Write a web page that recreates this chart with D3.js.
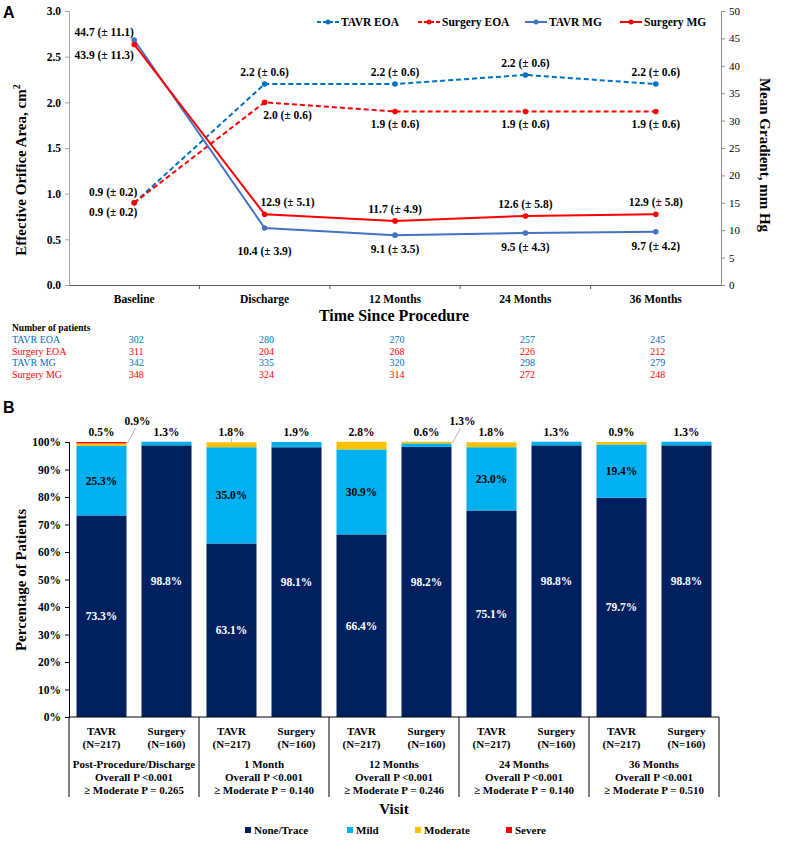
<!DOCTYPE html>
<html>
<head>
<meta charset="utf-8">
<script src="https://cdn.jsdelivr.net/npm/d3@7"></script>
<style>
  body { margin: 0; background: #fff; }
  svg text { font-family: "Liberation Serif", "Times New Roman", serif; font-weight: bold; }
</style>
</head>
<body>
<svg id="chart" width="788" height="843"></svg>
<script>
// ---- panel A data ----
const timePoints = ["Baseline", "Discharge", "12 Months", "24 Months", "36 Months"];
const tavrEoa = [0.9, 2.2, 2.2, 2.3, 2.2];
const surgeryEoa = [0.9, 2.0, 1.9, 1.9, 1.9];
const tavrMg = [44.7, 10.4, 9.1, 9.5, 9.7];
const surgeryMg = [43.9, 12.9, 11.7, 12.6, 12.9];
const tavrEoaLabels = ["0.9 (± 0.2)", "2.2 (± 0.6)", "2.2 (± 0.6)", "2.2 (± 0.6)", "2.2 (± 0.6)"];
const surgeryEoaLabels = ["0.9 (± 0.2)", "2.0 (± 0.6)", "1.9 (± 0.6)", "1.9 (± 0.6)", "1.9 (± 0.6)"];
const tavrMgLabels = ["44.7 (± 11.1)", "10.4 (± 3.9)", "9.1 (± 3.5)", "9.5 (± 4.3)", "9.7 (± 4.2)"];
const surgeryMgLabels = ["43.9 (± 11.3)", "12.9 (± 5.1)", "11.7 (± 4.9)", "12.6 (± 5.8)", "12.9 (± 5.8)"];
const eoaTicks = [0, 0.5, 1.0, 1.5, 2.0, 2.5, 3.0];
const mgTicks = [0, 5, 10, 15, 20, 25, 30, 35, 40, 45, 50];

const patientRows = ["TAVR EOA", "Surgery EOA", "TAVR MG", "Surgery MG"];
const patientsTavrEoa = [302, 280, 270, 257, 245];
const patientsSurgeryEoa = [311, 204, 268, 226, 212];
const patientsTavrMg = [342, 335, 320, 298, 279];
const patientsSurgeryMg = [348, 324, 314, 272, 248];

// ---- panel B data ----
const visits = ["Post-Procedure/Discharge", "1 Month", "12 Months", "24 Months", "36 Months"];
const arms = ["TAVR", "Surgery"];
const armN = ["(N=217)", "(N=160)"];
const overallP = ["Overall P <0.001", "Overall P <0.001", "Overall P <0.001", "Overall P <0.001", "Overall P <0.001"];
const moderateP = ["≥ Moderate P = 0.265", "≥ Moderate P = 0.140", "≥ Moderate P = 0.246", "≥ Moderate P = 0.140", "≥ Moderate P = 0.510"];
const severity = ["None/Trace", "Mild", "Moderate", "Severe"];
// bars in order: TAVR, Surgery for each visit
const noneTrace = [73.3, 98.8, 63.1, 98.1, 66.4, 98.2, 75.1, 98.8, 79.7, 98.8];
const mild = [25.3, 1.3, 35.0, 1.9, 30.9, 1.3, 23.0, 1.3, 19.4, 1.3];
const moderate = [0.9, 0, 1.8, 0, 2.8, 0.6, 1.8, 0, 0.9, 0];
const severe = [0.5, 0, 0, 0, 0, 0, 0, 0, 0, 0];
const pctTicks = [0, 10, 20, 30, 40, 50, 60, 70, 80, 90, 100];
const tickedBars = [2]; // bars whose top label has a short pointer

const svg = d3.select("#chart");
svg.append("rect").attr("width", 788).attr("height", 843).attr("fill", "#fff");

const blue = "#0070C0", blueMg = "#4472C4", red = "#FF0000";

// ================= Panel A =================
const x = d3.scaleBand().domain(timePoints).range([69, 721]).padding(0);
const cx = d => x(d) + x.bandwidth() / 2;
const yL = d3.scaleLinear().domain([0, 3]).range([285, 11]);
const yR = d3.scaleLinear().domain([0, 50]).range([285, 11]);

svg.append("text").attr("x", 3).attr("y", 18).text("A")
  .style("font-family", "Liberation Sans, Arial, sans-serif").style("font-size", "16px");

const gL = svg.append("g").attr("transform", "translate(69,0)")
  .call(d3.axisLeft(yL).tickValues(eoaTicks).tickFormat(d3.format(".1f")).tickSize(4).tickPadding(4));
gL.selectAll("path, line").attr("stroke", "#a6a6a6");
gL.selectAll("text").style("font-size", "11.5px").attr("fill", "#000");

const gR = svg.append("g").attr("transform", "translate(721,0)")
  .call(d3.axisRight(yR).tickValues(mgTicks).tickSize(4).tickPadding(4));
gR.selectAll("path, line").attr("stroke", "#8c8c8c");
gR.selectAll("text").style("font-size", "11px").style("font-weight", "normal").attr("fill", "#000");

const gX = svg.append("g").attr("transform", "translate(0,285)")
  .call(d3.axisBottom(x).tickSize(0).tickPadding(10));
gX.select(".domain").attr("stroke", "#595959");
gX.selectAll("text").style("font-size", "11.5px").attr("fill", "#000");
// tick marks at band edges
gX.selectAll(".edge").data(timePoints.slice(1)).enter().append("line")
  .attr("x1", d => x(d)).attr("x2", d => x(d)).attr("y1", 0).attr("y2", 4).attr("stroke", "#595959");

svg.append("text").attr("transform", "translate(26,170) rotate(-90)").attr("text-anchor", "middle")
  .style("font-size", "15px")
  .call(t => { t.append("tspan").text("Effective Orifice Area, cm"); t.append("tspan").attr("dy", -6).style("font-size", "10px").text("2"); });
svg.append("text").attr("transform", "translate(760,155) rotate(90)").attr("text-anchor", "middle")
  .style("font-size", "15px").text("Mean Gradient, mm Hg");
svg.append("text").attr("x", 394).attr("y", 321).attr("text-anchor", "middle")
  .style("font-size", "16px").text("Time Since Procedure");

const series = [
  { name: "TAVR EOA", values: tavrEoa, labels: tavrEoaLabels, y: yL, color: blue, dash: "5,3", above: true },
  { name: "Surgery EOA", values: surgeryEoa, labels: surgeryEoaLabels, y: yL, color: red, dash: "5,3", above: false },
  { name: "TAVR MG", values: tavrMg, labels: tavrMgLabels, y: yR, color: blueMg, dash: null, above: false },
  { name: "Surgery MG", values: surgeryMg, labels: surgeryMgLabels, y: yR, color: red, dash: null, above: true }
];

series.forEach(s => {
  const pts = s.values.map((v, i) => [cx(timePoints[i]), s.y(v)]);
  svg.append("path").attr("d", d3.line()(pts)).attr("fill", "none")
    .attr("stroke", s.color).attr("stroke-width", 2).attr("stroke-dasharray", s.dash);
  svg.selectAll(null).data(pts).enter().append("circle")
    .attr("cx", d => d[0]).attr("cy", d => d[1]).attr("r", 2.8).attr("fill", s.color);
});

// value labels
series.forEach(s => {
  const isMg = s.y === yR;
  s.labels.forEach((lab, i) => {
    const px = cx(timePoints[i]), py = s.y(s.values[i]);
    let dx = 0, dy;
    if (i === 0) {
      dx = isMg ? -30 : -21;
      if (isMg) dy = s.above ? 11 : -8;   // baseline MG labels swap sides
      else dy = s.above ? -11 : 9;
    } else {
      dy = s.above ? -12 : (isMg ? 14 : 13);
      if (i === 1 && s.name === "TAVR MG") dy = 23;
      if (i === 1 && s.name.startsWith("Surgery")) dx = 23;
    }
    svg.append("text").attr("x", px + dx).attr("y", py + dy).attr("dy", "0.35em")
      .attr("text-anchor", "middle").style("font-size", "11.5px").text(lab);
  });
});

// legend A
const legA = [317, 418, 525, 620];
series.forEach((s, i) => {
  const g = svg.append("g").attr("transform", `translate(${legA[i]},22)`);
  g.append("line").attr("x1", 0).attr("x2", 22).attr("stroke", s.color).attr("stroke-width", 2)
    .attr("stroke-dasharray", s.dash ? "4,2" : null);
  g.append("circle").attr("cx", 11).attr("r", 2.5).attr("fill", s.color);
  g.append("text").attr("x", 24).attr("dy", "0.35em").style("font-size", "11.5px").text(s.name);
});

// number of patients table
svg.append("text").attr("x", 12).attr("y", 331).style("font-size", "9.5px").text("Number of patients");
const patientData = [patientsTavrEoa, patientsSurgeryEoa, patientsTavrMg, patientsSurgeryMg];
const rowColors = [blue, red, blue, red];
patientRows.forEach((r, ri) => {
  const yy = 343 + ri * 11.7;
  svg.append("text").attr("x", 12).attr("y", yy).style("font-size", "10px").style("font-weight", "normal")
    .attr("fill", rowColors[ri]).text(r);
  svg.selectAll(null).data(patientData[ri]).enter().append("text")
    .attr("x", (d, i) => cx(timePoints[i]) + 2).attr("y", yy).attr("text-anchor", "middle")
    .style("font-size", "10px").style("font-weight", "normal").attr("fill", rowColors[ri]).text(d => d);
});

// ================= Panel B =================
svg.append("text").attr("x", 3).attr("y", 413).text("B")
  .style("font-family", "Liberation Sans, Arial, sans-serif").style("font-size", "16px");

const barKeys = d3.range(noneTrace.length);
const xb = d3.scaleBand().domain(barKeys).range([69, 719]).paddingInner(15 / 65).paddingOuter(7.5 / 65);
const yb = d3.scaleLinear().domain([0, 100]).range([717, 442]);
const colorB = d3.scaleOrdinal().domain(severity).range(["#002060", "#00B0F0", "#FFC000", "#FF0000"]);

const rows = barKeys.map(i => ({ "None/Trace": noneTrace[i], "Mild": mild[i], "Moderate": moderate[i], "Severe": severe[i] }));
const stacked = d3.stack().keys(severity)(rows);

stacked.forEach(layer => {
  svg.append("g").selectAll("rect").data(layer).enter().append("rect")
    .attr("x", (d, i) => xb(i)).attr("width", xb.bandwidth())
    .attr("y", d => yb(d[1])).attr("height", d => yb(d[0]) - yb(d[1]))
    .attr("fill", colorB(layer.key));
});

// labels inside bars
[["None/Trace", "#fff"], ["Mild", "#000"]].forEach(([key, col]) => {
  const layer = stacked.find(l => l.key === key);
  layer.forEach((d, i) => {
    if (d[1] - d[0] < 5) return;
    svg.append("text").attr("x", xb(i) + xb.bandwidth() / 2).attr("y", yb((d[0] + d[1]) / 2))
      .attr("dy", "0.35em").attr("text-anchor", "middle").attr("fill", col)
      .style("font-size", "11.5px").text(d3.format(".1f")(d[1] - d[0]) + "%");
  });
});

// small segments labeled above bars
barKeys.forEach(i => {
  const small = severity.slice().reverse().map(k => rows[i][k]).filter(v => v > 0 && v < 5);
  const mx = xb(i) + xb.bandwidth() / 2;
  small.forEach((v, j) => {
    const txt = d3.format(".1f")(v) + "%";
    if (j === 0) {
      svg.append("text").attr("x", mx).attr("y", 432).attr("dy", "0.35em").attr("text-anchor", "middle")
        .style("font-size", "11.5px").text(txt);
      if (tickedBars.includes(i)) {
        svg.append("line").attr("x1", mx).attr("x2", mx).attr("y1", 438).attr("y2", 442)
          .attr("stroke", "#a6a6a6").attr("stroke-width", 0.8);
      }
    } else {
      const ex = xb(i) + xb.bandwidth();
      svg.append("line").attr("x1", ex + 1).attr("y1", 443).attr("x2", ex + 9).attr("y2", 428)
        .attr("stroke", "#a6a6a6").attr("stroke-width", 0.8);
      svg.append("text").attr("x", ex + 11).attr("y", 421).attr("dy", "0.35em").attr("text-anchor", "middle")
        .style("font-size", "11.5px").text(txt);
    }
  });
});

const gB = svg.append("g").attr("transform", "translate(69,0)")
  .call(d3.axisLeft(yb).tickValues(pctTicks).tickFormat(d => d + "%").tickSize(4).tickPadding(4));
gB.selectAll("path, line").attr("stroke", "#000");
gB.selectAll("text").style("font-size", "11.5px").attr("fill", "#000");

svg.append("line").attr("x1", 69).attr("x2", 719).attr("y1", 717).attr("y2", 717).attr("stroke", "#000");

// category table below
const groupW = 130;
d3.range(visits.length + 1).forEach(k => {
  svg.append("line").attr("x1", 69 + k * groupW).attr("x2", 69 + k * groupW)
    .attr("y1", 717).attr("y2", 797).attr("stroke", "#000");
});
barKeys.forEach(i => {
  const mx = xb(i) + xb.bandwidth() / 2;
  svg.append("text").attr("x", mx).attr("y", 735).attr("text-anchor", "middle").style("font-size", "11px").text(arms[i % 2]);
  svg.append("text").attr("x", mx).attr("y", 748).attr("text-anchor", "middle").style("font-size", "11px").text(armN[i % 2]);
});
visits.forEach((v, k) => {
  const gx = 69 + k * groupW + groupW / 2;
  [v, overallP[k], moderateP[k]].forEach((t, j) => {
    svg.append("text").attr("x", gx).attr("y", 768 + j * 13).attr("text-anchor", "middle")
      .style("font-size", "11px").text(t);
  });
});

svg.append("text").attr("x", 394).attr("y", 814).attr("text-anchor", "middle").style("font-size", "15px").text("Visit");
svg.append("text").attr("transform", "translate(26,580) rotate(-90)").attr("text-anchor", "middle")
  .style("font-size", "15px").text("Percentage of Patients");

// legend B
const legB = [245, 347, 415, 506];
severity.forEach((s, i) => {
  svg.append("rect").attr("x", legB[i]).attr("y", 827).attr("width", 6).attr("height", 6).attr("fill", colorB(s));
  svg.append("text").attr("x", legB[i] + 9).attr("y", 830).attr("dy", "0.35em").style("font-size", "11px").text(s);
});
</script>
</body>
</html>
